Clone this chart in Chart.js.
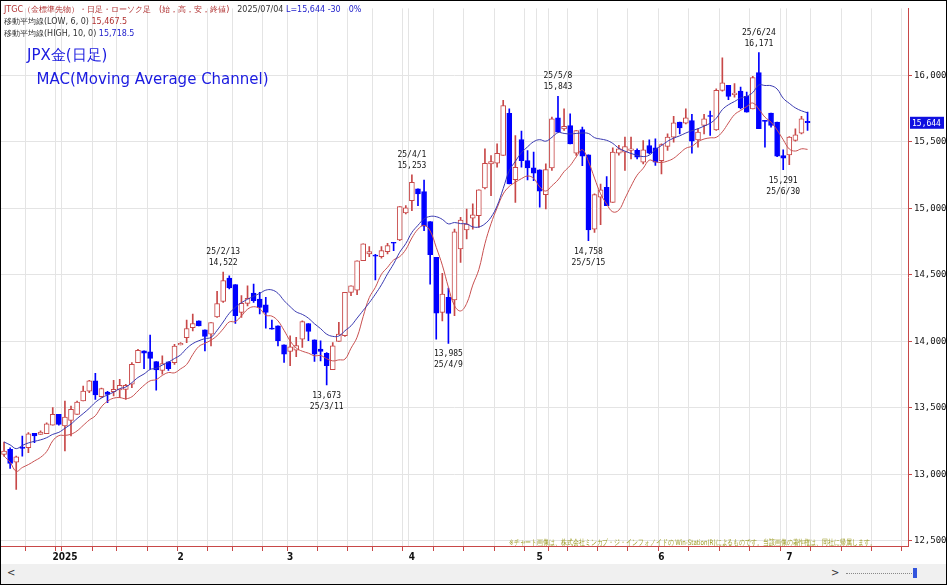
<!DOCTYPE html>
<html>
<head>
<meta charset="utf-8">
<script src="https://cdn.jsdelivr.net/npm/chart.js@4.4.1/dist/chart.umd.min.js"></script>
<style>
  body { margin: 0; background: #fff; font-family: "DejaVu Sans", sans-serif; }
  #wrap { position: relative; width: 945px; height: 583px; border: 1px solid #000; overflow: hidden; }
  #chartBox { position: absolute; left: 0; top: 0; width: 945px; height: 563px; }
  #head { position: absolute; left: 3px; top: 3px; font-size: 8px; line-height: 12px; color: #333; }
  #title { position: absolute; left: 26px; top: 42px; color: #1a1ae0; font-size: 15px; line-height: 24px; }
  #note { position: absolute; left: 508px; top: 537px; font-size: 7.5px; color: #9a9a20; white-space: nowrap;
          transform: scaleX(0.74); transform-origin: left top; }
  #scroll { position: absolute; left: 0; top: 563px; width: 945px; height: 20px; background: #f0f0f0; font-size: 10px; color: #333; }
</style>
</head>
<body>
<div id="wrap">
  <div id="chartBox"><canvas id="chart"></canvas></div>
  <div id="head">
    <div><span style="color:#b03030">JTGC（金標準先物）・日足・ローソク足　(始，高，安，終値)</span>　2025/07/04 <span style="color:#2222cc">L=15,644 -30　0%</span></div>
    <div>移動平均線(LOW, 6, 0) <span style="color:#b03030">15,467.5</span></div>
    <div>移動平均線(HIGH, 10, 0) <span style="color:#2222cc">15,718.5</span></div>
  </div>
  <div id="title">JPX金(日足)<br>&nbsp;&nbsp;MAC(Moving Average Channel)</div>
  <div id="note">※チャート画像は、株式会社ミンカブ・ジ・インフォノイドの Win-Station(R)によるものです。当該画像の著作権は、同社に帰属します。</div>
  <div id="scroll"><span style="position:absolute;left:6px;top:3px">&lt;</span><span style="position:absolute;left:830px;top:3px">&gt;</span>
    <span style="position:absolute;left:845px;top:9px;width:70px;border-top:1px dotted #888"></span>
    <span style="position:absolute;left:912px;top:4px;width:4px;height:10px;background:#3355dd"></span></div>
</div>
<script>
const opens = [13151,13188,13093,13206,13201,13309,13301,13306,13371,13452,
  13364,13407,13452,13552,13627,13703,13585,13620,13622,13635,13640,13678,13841,13929,13921,13848,13783,13846,13841,
  13974,14029,14104,14155,14087,14054,14185,14301,14477,14427,14218,14286,14364,14319,14276,14100,14118,13975,13925,
  13935,14017,14135,14012,13942,13910,13787,14000,14043,14369,14386,14607,14658,14650,14638,14675,14745,14763,14966,
  15059,15147,15127,14901,14632,14218,14331,14313,14695,14838,14926,14946,15154,15335,15340,15398,15716,15217,15518,15360,15305,
  15290,15104,15305,15681,15598,15623,15415,15593,15403,14845,15084,15159,15046,15415,15423,15436,15436,15348,15473,15456,
  15360,15466,15536,15649,15641,15661,15516,15624,15699,15591,15888,15925,15855,15882,15842,15749,16021,15662,15717,15649,15398,
  15403,15511,15566,15654];
const highs = [13244,13200,13138,13289,13314,13309,13327,13389,13502,13452,
  13552,13514,13552,13665,13708,13760,13650,13625,13708,13715,13678,13841,13940,13929,14047,13848,13891,13846,13979,
  13992,14160,14205,14155,14087,14142,14376,14522,14494,14427,14344,14419,14432,14369,14331,14160,14118,13975,14043,
  14030,14155,14135,14012,14005,13917,13992,14143,14369,14419,14607,14733,14713,14655,14713,14738,14745,15014,15021,
  15253,15147,15214,14901,14632,14512,14401,14845,14933,14996,15034,15139,15448,15398,15486,15812,15749,15548,15581,15435,15423,
  15290,15335,15686,15843,15749,15711,15586,15611,15403,15109,15184,15240,15455,15475,15536,15536,15448,15511,15516,15524,
  15486,15561,15692,15649,15749,15707,15599,15707,15732,15900,16133,15925,15938,15913,15875,15993,16171,15662,15717,15649,15441,
  15541,15599,15692,15724];
const lows = [13138,13045,12887,13138,13163,13238,13301,13306,13371,13371,
  13176,13289,13452,13552,13615,13565,13580,13540,13590,13577,13565,13653,13841,13796,13791,13633,13753,13783,13828,
  13974,13991,14079,14117,13929,13966,14180,14294,14394,14135,14181,14268,14294,14206,14100,14093,13967,13842,13817,
  13885,13955,14005,13849,13854,13673,13787,14000,14038,14344,14351,14607,14638,14462,14627,14658,14683,14758,14959,
  14984,15021,14833,14431,14017,14155,13985,14193,14594,14770,14845,14858,15147,15096,15310,15398,15184,15046,15310,15214,15209,
  15009,14996,15285,15573,15586,15485,15398,15322,14758,14820,14878,15021,15046,15400,15285,15373,15373,15335,15410,15323,
  15260,15436,15498,15561,15636,15416,15461,15561,15549,15586,15882,15817,15837,15749,15724,15749,15599,15461,15611,15390,15291,
  15330,15506,15561,15586];
const closes = [13176,13083,13133,13196,13306,13289,13319,13381,13452,13376,
  13432,13489,13545,13627,13703,13597,13645,13602,13640,13670,13670,13828,13934,13911,13873,13786,13833,13796,13966,
  13986,14097,14135,14117,14037,14142,14285,14457,14402,14193,14286,14324,14306,14256,14218,14093,14005,13905,13960,
  13968,14150,14075,13905,13925,13817,13967,14055,14369,14419,14607,14733,14675,14642,14683,14720,14738,15014,15004,
  15197,15109,14866,14652,14213,14356,14210,14825,14913,14883,14951,15139,15340,15352,15415,15774,15184,15310,15360,15305,15265,
  15129,15292,15674,15573,15618,15485,15586,15393,14838,15104,15139,15021,15423,15448,15466,15448,15386,15441,15415,15348,
  15481,15536,15644,15606,15681,15506,15574,15674,15692,15888,15945,15842,15867,15755,15724,15983,15599,15654,15624,15393,15378,
  15536,15553,15674,15644];
const holidays = ['2024-12-31','2025-01-01','2025-01-02','2025-01-03','2025-01-13','2025-02-11','2025-02-24',
  '2025-03-20','2025-04-29','2025-05-05','2025-05-06'];
const yTicks = [12500,13000,13500,14000,14500,15000,15500,16000];
// [index, date text, price text, 'up' = label above high]
const notes = [
  [36,'25/2/13','14,522','up'], [53,'25/3/11','13,673','down'], [67,'25/4/1','15,253','up'],
  [73,'25/4/9','13,985','down'], [91,'25/5/8','15,843','up'], [96,'25/5/15','14,758','down'],
  [124,'25/6/24','16,171','up'], [128,'25/6/30','15,291','down']
];

// trading days, plus empty future slots to the right
const days = [];
for (let d = new Date(Date.UTC(2024, 11, 17)); d <= new Date(Date.UTC(2025, 6, 28)); d.setUTCDate(d.getUTCDate() + 1)) {
  const wd = d.getUTCDay();
  const s = d.toISOString().slice(0, 10);
  if (wd === 0 || wd === 6 || holidays.includes(s)) continue;
  days.push(s);
}
const monthLabel = {};
const weekStart = {};
days.forEach((s, i) => {
  if (i === 0) return;
  const p = days[i - 1];
  if (s.slice(5, 7) !== p.slice(5, 7)) monthLabel[i] = s.slice(5, 7) === '01' ? '2025' : String(+s.slice(5, 7));
  const diff = (Date.parse(s) - Date.parse(p)) / 86400000;
  if (diff > 1 && new Date(s).getUTCDay() <= new Date(p).getUTCDay()) weekStart[i] = true;
});

function ma(arr, n) {
  return arr.map((v, i) => {
    const part = arr.slice(Math.max(0, i - n + 1), i + 1);
    return part.reduce((a, b) => a + b, 0) / part.length;
  });
}
const maLow = ma(lows, 6);
const maHigh = ma(highs, 10);

const RED = '#c84848', BLUE = '#0000ff';
const up = closes.map((c, i) => c >= opens[i]);

const notePlugin = {
  id: 'notes',
  afterDatasetsDraw(chart) {
    const { ctx, scales: { x, y } } = chart;
    ctx.save();
    ctx.font = '8px "DejaVu Sans Mono", monospace';
    ctx.fillStyle = '#111';
    ctx.textAlign = 'center';
    notes.forEach(([i, dt, pr, pos]) => {
      const px = x.getPixelForValue(i);
      if (pos === 'up') {
        const py = y.getPixelForValue(highs[i]);
        ctx.fillText(dt, px, py - 18);
        ctx.fillText(pr, px, py - 7);
      } else {
        const py = y.getPixelForValue(lows[i]);
        ctx.fillText(pr, px, py + 13);
        ctx.fillText(dt, px, py + 24);
      }
    });
    // last price box
    const last = closes[closes.length - 1];
    const ly = y.getPixelForValue(last);
    ctx.fillStyle = '#1010e0';
    ctx.fillRect(x.right + 2, ly - 6, 34, 12);
    ctx.fillStyle = '#fff';
    ctx.textAlign = 'left';
    ctx.fillText(last.toLocaleString('en-US'), x.right + 4, ly + 3);
    ctx.restore();
  }
};

new Chart(document.getElementById('chart'), {
  type: 'bar',
  data: {
    labels: days,
    datasets: [
      { type: 'line', data: maHigh, borderColor: '#3838b0', borderWidth: 1, pointRadius: 0, tension: 0.4, order: 1 },
      { type: 'line', data: maLow, borderColor: '#c85050', borderWidth: 1, pointRadius: 0, tension: 0.4, order: 1 },
      { data: opens.map((o, i) => [o, closes[i]]), grouped: false, barThickness: 5, borderWidth: 1, borderSkipped: false,
        backgroundColor: up.map(u => u ? '#fff' : BLUE), borderColor: up.map(u => u ? RED : BLUE), order: 2 },
      { data: lows.map((l, i) => [l, highs[i]]), grouped: false, barThickness: 1,
        backgroundColor: up.map(u => u ? RED : BLUE), order: 3 }
    ]
  },
  options: {
    animation: false,
    responsive: true,
    maintainAspectRatio: false,
    layout: { padding: { top: 0, left: 0, right: 0 } },
    plugins: { legend: { display: false }, tooltip: { enabled: false } },
    scales: {
      x: {
        offset: true,
        border: { color: RED, width: 1 },
        grid: { color: ctx => (weekStart[ctx.index] || monthLabel[ctx.index]) ? '#e4e4e4' : 'transparent',
                tickColor: ctx => weekStart[ctx.index] ? RED : 'transparent', tickLength: 5 },
        ticks: { autoSkip: false, maxRotation: 0, color: '#111', padding: 0,
                 font: { size: 10, weight: 'bold', family: 'DejaVu Sans Condensed' },
                 callback: (v, i) => monthLabel[i] || '' },
        afterFit: s => { s.height = 18; }
      },
      y: {
        position: 'right',
        min: 12462, max: 16504,
        afterBuildTicks: s => { s.ticks = yTicks.map(v => ({ value: v })); },
        border: { color: RED, width: 1 },
        grid: { color: '#e4e4e4', tickColor: RED, tickLength: 4 },
        ticks: { color: '#111', padding: 2, font: { size: 9, family: 'DejaVu Sans Mono' },
                 callback: v => v.toLocaleString('en-US') },
        afterFit: s => { s.width = 38; }
      }
    }
  },
  plugins: [notePlugin]
});
</script>
</body>
</html>
